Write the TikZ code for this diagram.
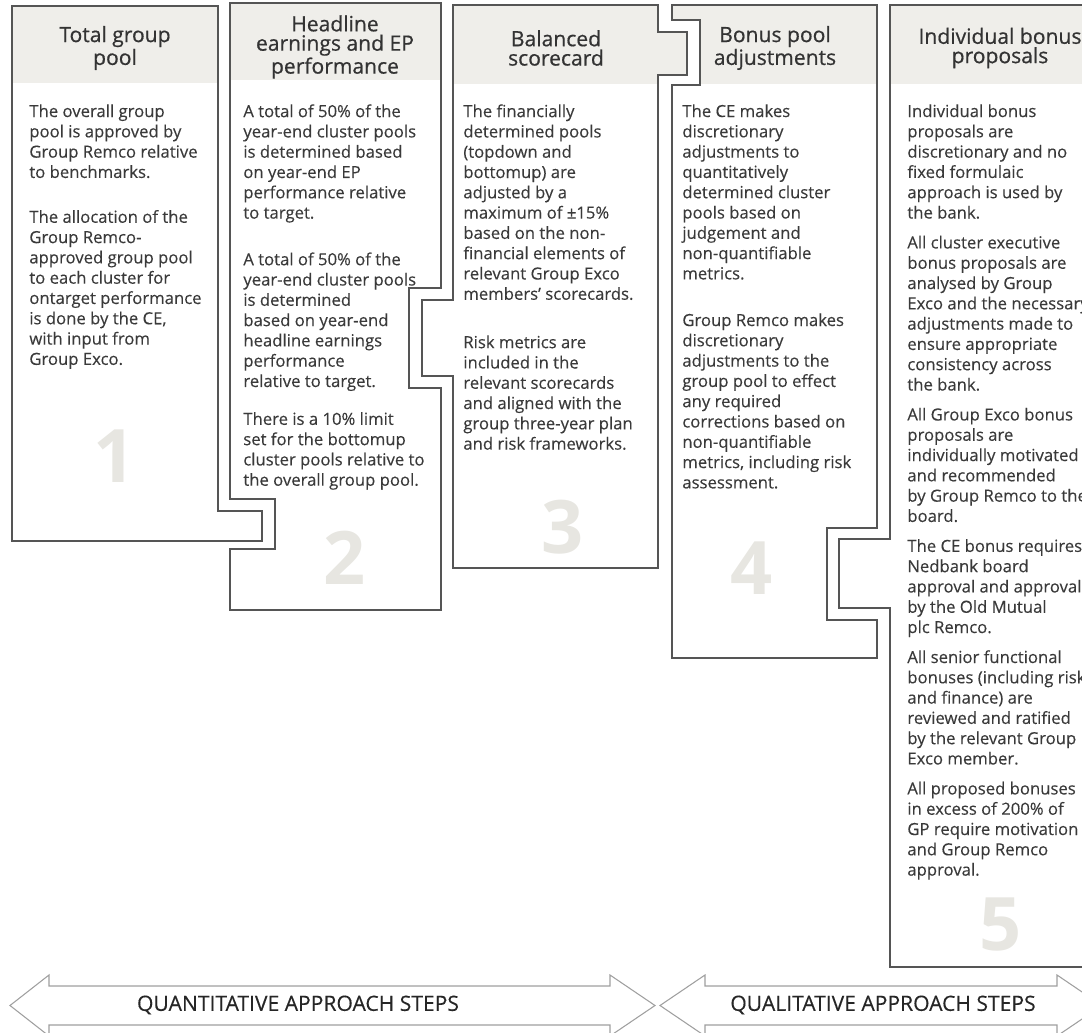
\documentclass[tikz,border=0pt]{standalone}
\usepackage{fontspec}
\setmainfont{Open Sans}
\newfontfamily\heavyfont[FakeBold=0.6]{Open Sans}
\newfontfamily\bodyfont[FakeBold=0.25]{Open Sans}
\usepackage{tikz}
\definecolor{rand}{HTML}{555555}
\definecolor{kop}{HTML}{EFEEEA}
\definecolor{cijfer}{HTML}{E7E6E1}
\definecolor{tekst}{HTML}{3A3A3A}
\tikzstyle{panel} = [draw=rand, line width=0.9pt, line join=miter]
\tikzstyle{heading} = [align=center, inner sep=0pt, text=black!80, font=\heavyfont\fontsize{12}{11}\selectfont]
\tikzstyle{bodytext} = [align=left, inner sep=0pt, anchor=north west, text=tekst, font=\bodyfont\fontsize{9.5}{11.55}\selectfont]
\tikzstyle{bignumber} = [inner sep=0pt, text=cijfer, font=\bfseries\fontsize{42}{42}\selectfont]
\tikzstyle{steparrow} = [draw=gray!75, line width=0.6pt, fill=white]
\tikzstyle{arrowlabel} = [inner sep=0pt, text=black!85, font=\bodyfont\fontsize{12}{14}\selectfont]

\def\outlineone{(12,6) -- (218,6) -- (218,511) -- (262,511) -- (262,541) -- (12,541) -- cycle}
\def\outlinetwo{(230,3) -- (441,3) -- (441,288) -- (409,288) -- (409,388) -- (441,388) -- (441,610) -- (230,610) -- (230,549) -- (275,549) -- (275,499) -- (230,499) -- cycle}
\def\outlinethree{(453,5) -- (658,5) -- (658,32) -- (687,32) -- (687,75) -- (658,75) -- (658,568) -- (453,568) -- (453,376) -- (422,376) -- (422,300) -- (453,300) -- cycle}
\def\outlinefour{(672,5) -- (877,5) -- (877,528) -- (827,528) -- (827,620) -- (877,620) -- (877,658) -- (672,658) -- (672,85) -- (700,85) -- (700,20) -- (672,20) -- cycle}
\def\outlinefive{(890,5) -- (1110,5) -- (1110,967) -- (890,967) -- (890,608) -- (839,608) -- (839,539) -- (890,539) -- cycle}

\begin{document}
\begin{tikzpicture}[x=0.02cm, y=-0.02cm]
\useasboundingbox (0,0) rectangle (1082,1033);
\clip (0,0) rectangle (1082,1033);

\foreach \shp/\hb in {\outlineone/83, \outlinetwo/80, \outlinethree/84, \outlinefour/84, \outlinefive/84}{
  \begin{scope}
    \clip \shp;
    \fill[kop] (0,0) rectangle (1110,\hb);
  \end{scope}
  \draw[panel] \shp;
}

\node[heading] (h1) at (115,48) {Total group\\pool};
\node[heading] (h2) at (335,47) {Headline\\earnings and EP\\performance};
\node[heading] (h3) at (556,48) {Balanced\\scorecard};
\node[heading] (h4) at (775,48) {Bonus pool\\adjustments};
\node[heading] (h5) at (1000,48) {Individual bonus\\proposals};

\node[bodytext] (t1) at (29,104) {The overall group\\pool is approved by\\Group Remco relative\\to benchmarks.\\[14pt]The allocation of the\\Group Remco-\\approved group pool\\to each cluster for\\ontarget performance\\is done by the CE,\\with input from\\Group Exco.};
\node[bodytext] (t2) at (243,104) {A total of 50\% of the\\year-end cluster pools\\is determined based\\on year-end EP\\performance relative\\to target.\\[15pt]A total of 50\% of the\\year-end cluster pools\\is determined\\based on year-end\\headline earnings\\performance\\relative to target.\\[10pt]There is a 10\% limit\\set for the bottomup\\cluster pools relative to\\the overall group pool.};
\node[bodytext] (t3) at (463,104) {The financially\\determined pools\\(topdown and\\bottomup) are\\adjusted by a\\maximum of ±15\%\\based on the non-\\financial elements of\\relevant Group Exco\\members’ scorecards.\\[16pt]Risk metrics are\\included in the\\relevant scorecards\\and aligned with the\\group three-year plan\\and risk frameworks.};
\node[bodytext] (t4) at (682,104) {The CE makes\\discretionary\\adjustments to\\quantitatively\\determined cluster\\pools based on\\judgement and\\non-quantifiable\\metrics.\\[15pt]Group Remco makes\\discretionary\\adjustments to the\\group pool to effect\\any required\\corrections based on\\non-quantifiable\\metrics, including risk\\assessment.};
\node[bodytext] (t5) at (907,104) {Individual bonus\\proposals are\\discretionary and no\\fixed formulaic\\approach is used by\\the bank.\\[5.5pt]All cluster executive\\bonus proposals are\\analysed by Group\\Exco and the necessary\\adjustments made to\\ensure appropriate\\consistency across\\the bank.\\[5.5pt]All Group Exco bonus\\proposals are\\individually motivated\\and recommended\\by Group Remco to the\\board.\\[5.5pt]The CE bonus requires\\Nedbank board\\approval and approval\\by the Old Mutual\\plc Remco.\\[5.5pt]All senior functional\\bonuses (including risk\\and finance) are\\reviewed and ratified\\by the relevant Group\\Exco member.\\[5.5pt]All proposed bonuses\\in excess of 200\% of\\GP require motivation\\and Group Remco\\approval.};

\node[bignumber] (n1) at (115,456) {1};
\node[bignumber] (n2) at (345,558) {2};
\node[bignumber] (n3) at (563,527) {3};
\node[bignumber] (n4) at (752,568) {4};
\node[bignumber] (n5) at (1001,925) {5};

\draw[steparrow] (10,1005.5) -- (49,975) -- (49,986) -- (610,986) -- (610,975) -- (655,1005.5) -- (610,1036) -- (610,1025) -- (49,1025) -- (49,1036) -- cycle;
\draw[steparrow] (660,1005.5) -- (705,975) -- (705,986) -- (1057,986) -- (1057,975) -- (1102,1005.5) -- (1057,1036) -- (1057,1025) -- (705,1025) -- (705,1036) -- cycle;
\node[arrowlabel] (quant) at (298,1005) {QUANTITATIVE APPROACH STEPS};
\node[arrowlabel] (qual) at (883,1005) {QUALITATIVE APPROACH STEPS};
\end{tikzpicture}
\end{document}
